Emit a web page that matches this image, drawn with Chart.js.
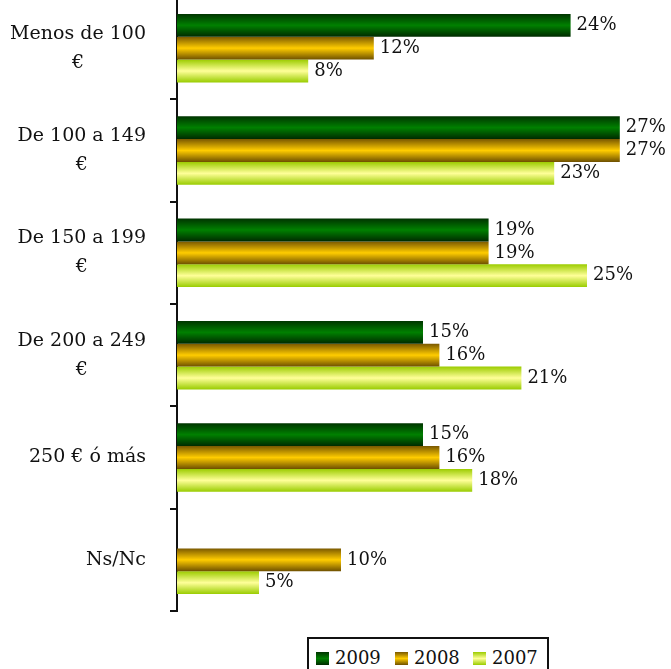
<!DOCTYPE html>
<html>
<head>
<meta charset="utf-8">
<script src="https://cdn.jsdelivr.net/npm/chart.js@4/dist/chart.umd.min.js"></script>
<style>
  body { margin: 0; background: #fff; overflow: hidden; }
  #wrap { position: relative; width: 671px; height: 669px; }
  #myChart { position: absolute; left: 0; top: -3px; }
  #legend {
    position: absolute; left: 307px; top: 637px; width: 238px; height: 40px;
    border: 2px solid #111; font-family: "DejaVu Serif", serif; font-size: 18px; color: #111;
  }
  #legend span.item { position: absolute; top: 8px; }
  #legend span.sw { display: inline-block; width: 13px; height: 13px; margin-right: 6px; vertical-align: -1px; }
</style>
</head>
<body>
<div id="wrap">
  <canvas id="myChart" width="671" height="620"></canvas>
  <div id="legend"></div>
</div>
<script>
var categories = [
  ['Menos de 100', '€'],
  ['De 100 a 149', '€'],
  ['De 150 a 199', '€'],
  ['De 200 a 249', '€'],
  ['250 € ó más'],
  ['Ns/Nc']
];
var years = ['2009', '2008', '2007'];
var values2009 = [24, 27, 19, 15, 15, null];
var values2008 = [12, 27, 19, 16, 16, 10];
var values2007 = [8, 23, 25, 21, 18, 5];

// gradient stops for each series: edge, centre, edge
var shades = [
  ['#003400', '#008000', '#002a00'],
  ['#7a5800', '#ffcc00', '#6e5000'],
  ['#9ccc00', '#ffff99', '#99cc00']
];

var FONT = '"DejaVu Serif", serif';

var gradientBars = {
  id: 'gradientBars',
  beforeDatasetsDraw: function (chart) {
    var ctx = chart.ctx;
    chart.data.datasets.forEach(function (ds, i) {
      chart.getDatasetMeta(i).data.forEach(function (el) {
        var top = el.y - el.height / 2, bot = el.y + el.height / 2;
        var g = ctx.createLinearGradient(0, top, 0, bot);
        g.addColorStop(0, shades[i][0]);
        g.addColorStop(0.5, shades[i][1]);
        g.addColorStop(1, shades[i][2]);
        el.options = Object.assign({}, el.options, { backgroundColor: g });
      });
    });
  }
};

var labelsPlugin = {
  id: 'labelsPlugin',
  afterDraw: function (chart) {
    var ctx = chart.ctx;
    var yScale = chart.scales.y;
    ctx.save();
    ctx.fillStyle = '#111';
    ctx.textBaseline = 'middle';

    // category labels: block right aligned, lines centred inside block
    ctx.font = '19px ' + FONT;
    var rightEdge = 146;
    categories.forEach(function (lines, i) {
      var c = yScale.getPixelForValue(i);
      var w = 0;
      lines.forEach(function (t) { w = Math.max(w, ctx.measureText(t).width); });
      var cx = rightEdge - w / 2;
      ctx.textAlign = 'center';
      lines.forEach(function (t, k) {
        var y = c + (k - (lines.length - 1) / 2) * 29;
        ctx.fillText(t, cx, y);
      });
    });

    // value labels
    ctx.font = '18px ' + FONT;
    ctx.textAlign = 'left';
    chart.data.datasets.forEach(function (ds, i) {
      chart.getDatasetMeta(i).data.forEach(function (el, j) {
        var v = ds.data[j];
        if (v === null || v === undefined) return;
        ctx.fillText(v + '%', el.x + 6, el.y);
      });
    });
    ctx.restore();
  }
};

var data = {
  labels: categories,
  datasets: [
    { label: years[0], data: values2009 },
    { label: years[1], data: values2008 },
    { label: years[2], data: values2007 }
  ]
};

var options = {
  indexAxis: 'y',
  responsive: false,
  animation: false,
  devicePixelRatio: 1,
  layout: { padding: { top: 0, bottom: 6, left: 0, right: 2 } },
  datasets: { bar: { barPercentage: 1, categoryPercentage: 0.67, borderWidth: 0 } },
  plugins: { legend: { display: false }, tooltip: { enabled: false } },
  scales: {
    x: { display: false, min: 0, max: 30 },
    y: {
      offset: true,
      afterFit: function (scale) { scale.width = 177; },
      ticks: { display: false },
      grid: { offset: true, drawOnChartArea: false, drawTicks: true, tickLength: 7, color: '#111', lineWidth: 2 },
      border: { display: true, color: '#111', width: 2 }
    }
  }
};

var ctx = document.getElementById('myChart');
var chart = new Chart(ctx, {
  type: 'bar',
  data: data,
  options: options,
  plugins: [gradientBars, labelsPlugin]
});

// legend built from the datasets
var legend = document.getElementById('legend');
var lefts = [7, 86, 164];
chart.data.datasets.forEach(function (ds, i) {
  var item = document.createElement('span');
  item.className = 'item';
  item.style.left = lefts[i] + 'px';
  var sw = document.createElement('span');
  sw.className = 'sw';
  sw.style.background = 'linear-gradient(' + shades[i][0] + ',' + shades[i][1] + ',' + shades[i][2] + ')';
  item.appendChild(sw);
  item.appendChild(document.createTextNode(ds.label));
  legend.appendChild(item);
});
</script>
</body>
</html>
